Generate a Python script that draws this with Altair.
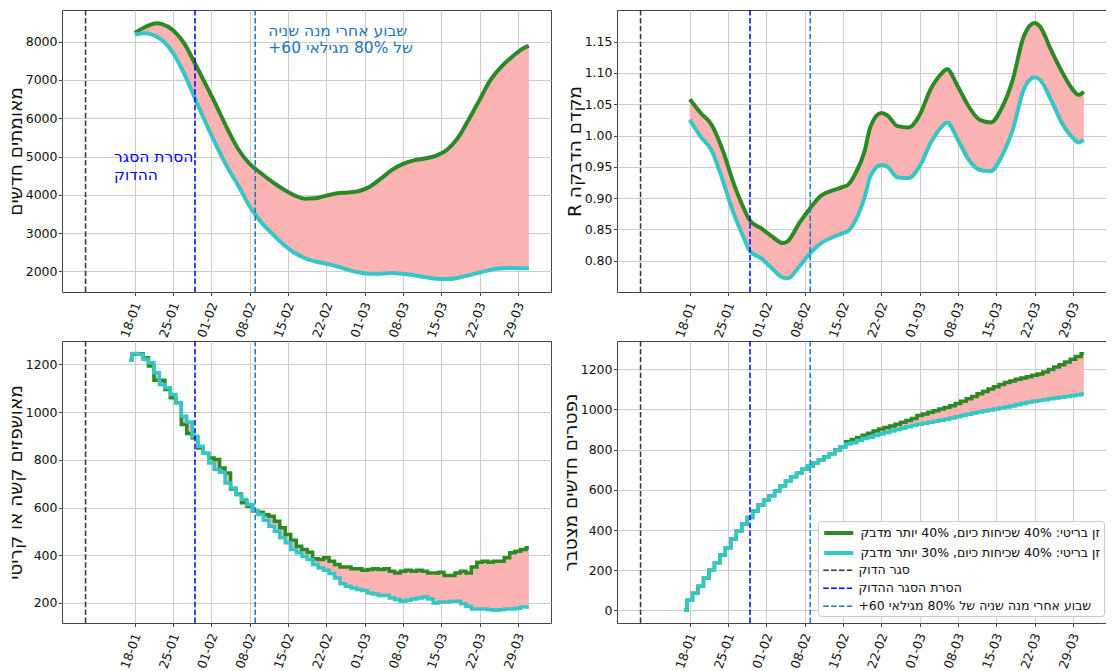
import altair as alt
import pandas as pd

FONT = "DejaVu Sans"

# ---------------- x axis (day of year 2021) ----------------
XDOM = [4.7, 94.05]
tick_days = [18, 25, 32, 39, 46, 53, 60, 67, 74, 81, 88]
tick_labels = ["18-01", "25-01", "01-02", "08-02", "15-02", "22-02",
               "01-03", "08-03", "15-03", "22-03", "29-03"]

# ---------------- series / markers ----------------
series_names = ["זן בריטי: 40% שכיחות כיום, 40% יותר מדבק",
                "זן בריטי: 40% שכיחות כיום, 30% יותר מדבק"]
series_colors = ["#2b8a23", "#35c6c6"]

vline_names = ["סגר הדוק", "הסרת הסגר ההדוק", "+60 שבוע אחרי מנה שניה של 80% מגילאי"]
vline_days = [9, 29, 40]
vline_colors = ["#333333", "#0000ff", "#1f77b4"]

FILL = "#fbb3b3"

# ---------------- panel 1: new confirmed ----------------
cases_days = [18, 20, 22, 23, 25, 27, 29, 31, 33, 35, 37, 39, 41, 43, 45, 47, 49, 51, 53,
              55, 57, 59, 61, 63, 65, 67, 69, 71, 73, 75, 77, 79, 81, 83, 85, 87, 89, 90]
cases_green = [8230, 8390, 8480, 8460, 8300, 7960, 7430, 6870, 6300, 5700, 5170, 4810, 4570,
               4350, 4160, 4000, 3900, 3910, 3980, 4040, 4060, 4100, 4220, 4430, 4650, 4810,
               4900, 4950, 5020, 5170, 5480, 5960, 6480, 7000, 7350, 7610, 7830, 7890]
cases_cyan = [8190, 8220, 8130, 8040, 7700, 7170, 6520, 5870, 5260, 4700, 4220, 3700, 3300,
              3000, 2720, 2500, 2350, 2260, 2200, 2130, 2040, 1970, 1940, 1940, 1960, 1940,
              1900, 1850, 1810, 1800, 1830, 1900, 1970, 2040, 2080, 2090, 2080, 2080]

# ---------------- panel 2: R ----------------
r_days = [18, 20, 22, 24, 26, 28, 29, 31, 33, 35, 36, 38, 40, 42, 44, 46, 47, 48, 50, 51, 53,
          54, 56, 58, 60, 62, 64, 65, 67, 69, 71, 73, 75, 77, 79, 81, 82, 84, 86, 88, 89, 90]
r_green = [1.058, 1.036, 1.017, 0.977, 0.924, 0.881, 0.864, 0.852, 0.839, 0.828, 0.832, 0.860,
           0.884, 0.904, 0.912, 0.918, 0.922, 0.935, 0.977, 1.014, 1.036, 1.033, 1.015, 1.013,
           1.033, 1.074, 1.099, 1.106, 1.078, 1.046, 1.025, 1.021, 1.044, 1.089, 1.158, 1.180,
           1.174, 1.137, 1.102, 1.073, 1.065, 1.070]
r_cyan = [1.025, 0.998, 0.976, 0.929, 0.876, 0.834, 0.815, 0.804, 0.788, 0.773, 0.772, 0.791,
          0.812, 0.828, 0.837, 0.844, 0.848, 0.860, 0.903, 0.935, 0.953, 0.951, 0.933, 0.932,
          0.951, 0.988, 1.014, 1.021, 0.993, 0.961, 0.945, 0.943, 0.967, 1.009, 1.073, 1.093,
          1.089, 1.057, 1.020, 0.996, 0.989, 0.993]

# ---------------- daily step panels (Jan 17 .. Mar 31) ----------------
step_days = list(range(17, 91))
hosp_green = [1218, 1242, 1245, 1228, 1193, 1134, 1134, 1095, 1060, 1039, 948, 910, 892, 850, 827,
              808, 801, 766, 745, 678, 657, 620, 605, 585, 580, 570, 563, 543, 515, 487, 463, 438,
              424, 413, 385, 382, 389, 375, 361, 351, 351, 343, 343,
              337, 340, 343, 340, 343, 333, 326, 333, 337, 333, 337, 333, 326, 326, 329, 315, 315,
              326, 333, 326, 351, 371, 375, 371, 375, 375, 389, 410, 417, 424, 431]
hosp_cyan = [1218, 1246, 1242, 1221, 1207, 1165, 1116, 1102, 1074, 1039, 983, 958, 899, 857, 827,
             787, 759, 748, 703, 682, 654, 634, 613, 585, 571, 547, 522, 501, 473, 452, 424, 410,
             396, 382, 361, 347, 337, 323, 305, 281, 270, 263, 256,
             252, 242, 238, 231, 232, 221, 214, 207, 211, 217, 221, 225, 217, 200, 204, 204, 207,
             207, 197, 186, 175, 175, 175, 172, 169, 172, 175, 175, 178, 183, 183]
deaths_green = [0, 50, 85, 120, 160, 200, 237, 275, 312, 355, 395, 430, 462, 495, 525,
                548, 570, 595, 620, 645, 665, 683, 702, 718, 735, 750, 765, 780, 798, 815,
                840, 850, 860, 872, 882, 893, 903, 910, 918, 927, 936, 945, 955,
                970, 978, 986, 994, 1002, 1010, 1019, 1030, 1041, 1053, 1065, 1078, 1090, 1102,
                1113, 1124, 1134, 1142, 1150, 1157, 1163, 1170, 1177, 1187, 1199, 1211, 1223,
                1236, 1250, 1264, 1278]
deaths_cyan = [0, 50, 85, 120, 160, 200, 237, 275, 312, 355, 395, 430, 462, 495, 525,
               548, 570, 595, 620, 645, 665, 683, 702, 718, 735, 750, 765, 780, 798, 815,
               828, 835, 845, 855, 862, 870, 878, 886, 893, 900, 907, 914, 920,
               927, 932, 937, 942, 947, 952, 958, 964, 970, 976, 982, 988, 993, 998, 1003,
               1008, 1013, 1018, 1024, 1030, 1036, 1041, 1045, 1049, 1053, 1057, 1061, 1065,
               1068, 1072, 1077]

# ---------------- annotations (top-left panel) ----------------
ann_text = ["שבוע אחרי מנה שניה", "+60 של 80% מגילאי", "הסרת הסגר", "ההדוק"]
ann_day = [42.4, 42.4, 14.2, 14.2]
ann_value = [8287, 7828, 5000, 4522]
ann_color = ["#1f77b4", "#1f77b4", "#0000ff", "#0000ff"]

label_expr = ("[" + ",".join("'%s'" % s for s in tick_labels) + "][indexof(["
              + ",".join(str(d) for d in tick_days) + "], datum.value)]")

W, H = 489, 282
NB = "\u00a0"
LFS = 12.5          # tick / legend label size
SYM = "M-1,0H4"     # legend line symbol (29 px long at size 134.56)
SYM_SIZE = 134.56


def make_panel(days, green, cyan, ydom, yticks, yfmt, ytitle, interp, lw, legend=False, ann=False):
    x = alt.X("day:Q", scale=alt.Scale(domain=XDOM, nice=False, zero=False),
              axis=alt.Axis(values=tick_days, labelExpr=label_expr, labelAngle=290, title=None,
                            tickSize=3.5, labelPadding=7, labelOffset=2))
    yscale = alt.Scale(domain=ydom, nice=False, zero=False)
    yaxis = alt.Axis(values=yticks, format=yfmt, title=ytitle, tickSize=3.5, labelPadding=1.5,
                     titlePadding=0)
    if legend:
        common = dict(orient="none", symbolType=SYM, symbolSize=SYM_SIZE, labelOffset=22.4,
                      labelFontSize=LFS, labelLimit=600, rowPadding=4)
        leg_a = alt.Legend(legendX=201, legendY=180, title=[NB, NB, NB],
                           titleOrient="bottom", titleFontSize=LFS, titleLineHeight=18.3,
                           titlePadding=1, symbolStrokeWidth=4,
                           fillColor="rgba(255,255,255,0.85)", strokeColor="#cccccc",
                           cornerRadius=3, padding=4, zindex=0, **common)
        leg_b = alt.Legend(legendX=205, legendY=222.3, title=None, symbolStrokeWidth=1.5,
                           padding=0, zindex=1, **common)
    else:
        leg_a = None
        leg_b = None
    color = alt.Color("name:N", scale=alt.Scale(domain=series_names, range=series_colors),
                      legend=leg_a)
    vstroke = alt.Stroke("name:N", scale=alt.Scale(domain=vline_names, range=vline_colors),
                         legend=leg_b)
    vdash = alt.StrokeDash("name:N",
                           scale=alt.Scale(domain=vline_names,
                                           range=[[5.5, 2.4], [5.5, 2.4], [5.5, 2.4]]),
                           legend=leg_b)

    wide = pd.DataFrame({"day": days, "g": green, "c": cyan})
    layers = [alt.Chart(wide).mark_area(color=FILL, interpolate=interp).encode(
        x=x, y=alt.Y("g:Q", scale=yscale, axis=yaxis), y2="c:Q")]
    for nm, vals in zip(series_names, [green, cyan]):
        df = pd.DataFrame({"day": days, "value": vals, "name": nm})
        layers.append(alt.Chart(df).mark_line(interpolate=interp, strokeWidth=lw).encode(
            x=x, y=alt.Y("value:Q", scale=yscale, axis=yaxis), color=color))
    vdf = pd.DataFrame({"day": vline_days, "name": vline_names})
    layers.append(alt.Chart(vdf).mark_rule(strokeWidth=1.5).encode(
        x=x, stroke=vstroke, strokeDash=vdash))
    if ann:
        adf = pd.DataFrame({"day": ann_day, "value": ann_value, "text": ann_text,
                            "col": ann_color})
        layers.append(alt.Chart(adf).mark_text(align="left", baseline="middle", fontSize=15.5,
                                               font=FONT).encode(
            x=x, y=alt.Y("value:Q", scale=yscale, axis=yaxis), text="text:N",
            color=alt.Color("col:N", scale=None)))
    return alt.layer(*layers).resolve_scale(color="independent").properties(width=W, height=H)


p1 = make_panel(cases_days, cases_green, cases_cyan, [1462, 8827],
                [2000, 3000, 4000, 5000, 6000, 7000, 8000], "d", "מאומתים חדשים",
                "monotone", 4, ann=True)
p2 = make_panel(r_days, r_green, r_cyan, [0.75, 1.2006],
                [0.80, 0.85, 0.90, 0.95, 1.00, 1.05, 1.10, 1.15], ".2f", "R מקדם הדבקה",
                "monotone", 4)
p3 = make_panel(step_days, hosp_green, hosp_cyan, [116, 1298],
                [200, 400, 600, 800, 1000, 1200], "d", "מאושפזים קשה או קריטי", "step", 3.5)
p4 = make_panel(step_days, deaths_green, deaths_cyan, [-63, 1341],
                [0, 200, 400, 600, 800, 1000, 1200], "d", "נפטרים חדשים מצטבר", "step", 3.5,
                legend=True)

chart = alt.concat(p1, p2, p3, p4, columns=2, spacing={"row": 49, "column": 66},
                   bounds="flush").resolve_scale(
    color="independent", stroke="independent", strokeDash="independent").properties(
    autosize=alt.AutoSizeParams(type="none"),
    padding={"left": 54, "top": 2, "right": 1044, "bottom": 663}
).configure(font=FONT).configure_view(
    stroke="#444444", strokeWidth=1
).configure_axis(
    domain=False, grid=True, gridColor="#cccccc", gridWidth=1, tickColor="#444444",
    labelFont=FONT, labelFontSize=LFS, labelColor="#111111", titleFont=FONT,
    titleFontSize=18.5, titleFontWeight="normal", titleColor="#111111"
).configure_legend(labelFont=FONT, labelColor="#111111", titleFont=FONT)

chart.save("out.html", embed_options={"renderer": "svg", "actions": False})
